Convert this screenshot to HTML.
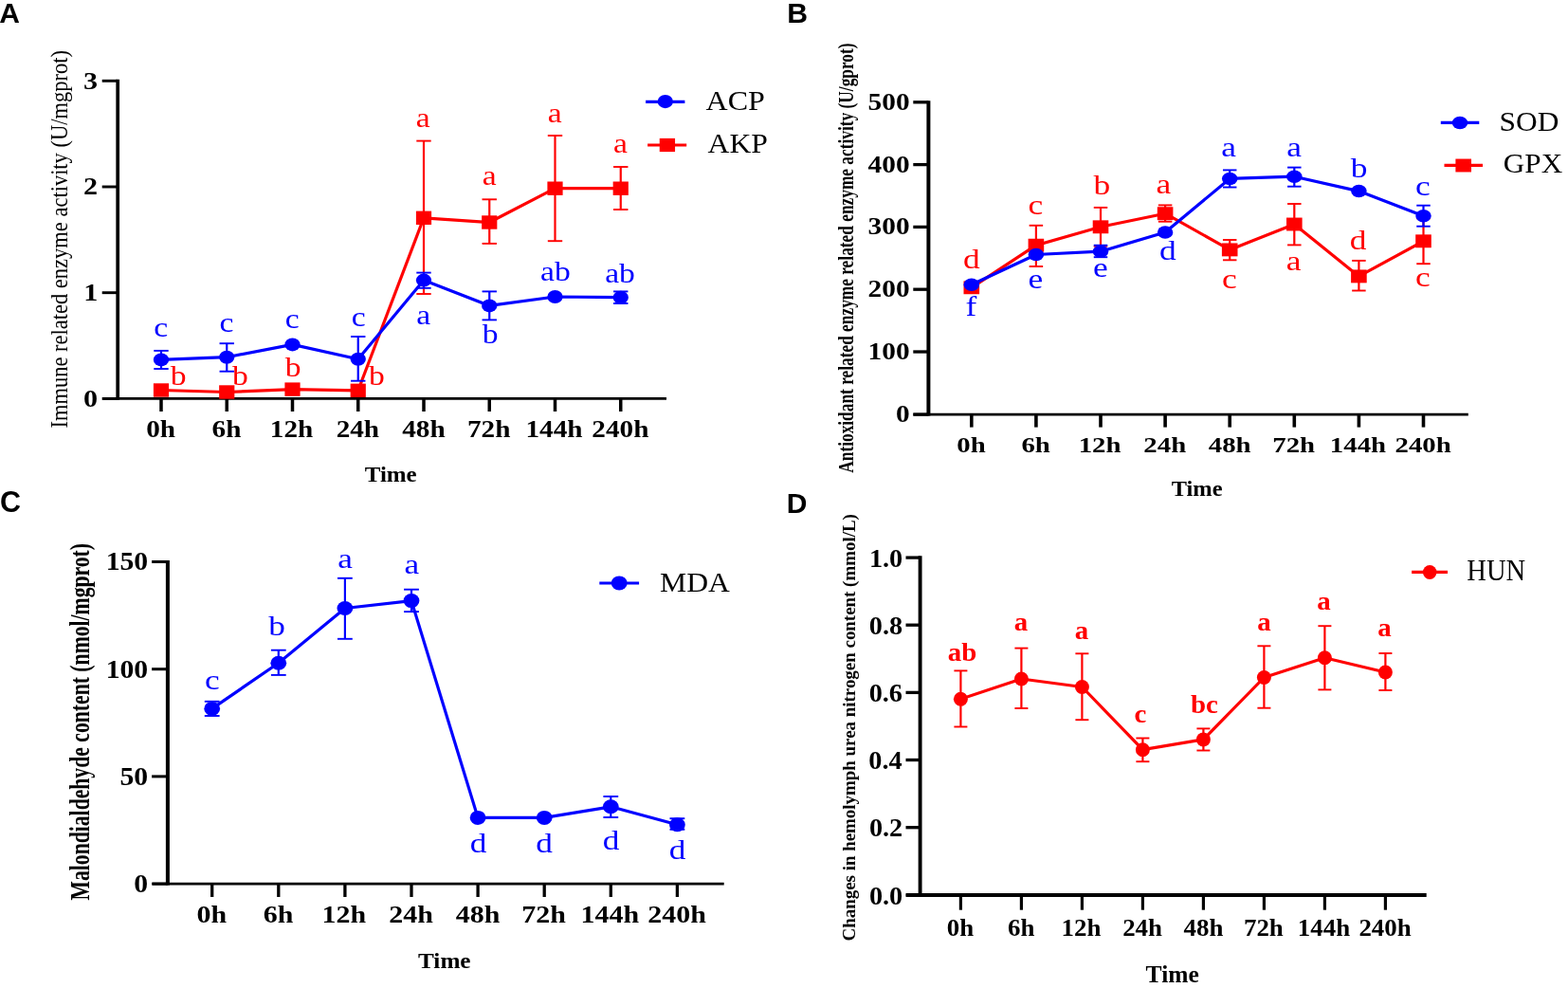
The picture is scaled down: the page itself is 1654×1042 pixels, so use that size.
<!DOCTYPE html>
<html><head><meta charset="utf-8"><title>Figure</title>
<style>html,body{margin:0;padding:0;background:#fff;}svg{display:block;}</style></head>
<body><svg width="1654" height="1042" viewBox="0 0 1654 1042">
<rect width="1654" height="1042" fill="#fff"/>
<line x1="124.2" y1="83.85" x2="124.2" y2="421.85" stroke="#000000" stroke-width="3.7" stroke-linecap="butt"/>
<line x1="108" y1="420.4" x2="703" y2="420.4" stroke="#000000" stroke-width="2.9" stroke-linecap="butt"/>
<line x1="107.7" y1="420.4" x2="124.2" y2="420.4" stroke="#000000" stroke-width="2.9" stroke-linecap="butt"/>
<line x1="107.7" y1="308.7" x2="124.2" y2="308.7" stroke="#000000" stroke-width="2.9" stroke-linecap="butt"/>
<line x1="107.7" y1="197" x2="124.2" y2="197" stroke="#000000" stroke-width="2.9" stroke-linecap="butt"/>
<line x1="107.7" y1="85.3" x2="124.2" y2="85.3" stroke="#000000" stroke-width="2.9" stroke-linecap="butt"/>
<line x1="170" y1="420.4" x2="170" y2="434" stroke="#000000" stroke-width="3.5" stroke-linecap="butt"/>
<line x1="239.25" y1="420.4" x2="239.25" y2="434" stroke="#000000" stroke-width="3.5" stroke-linecap="butt"/>
<line x1="308.5" y1="420.4" x2="308.5" y2="434" stroke="#000000" stroke-width="3.5" stroke-linecap="butt"/>
<line x1="377.75" y1="420.4" x2="377.75" y2="434" stroke="#000000" stroke-width="3.5" stroke-linecap="butt"/>
<line x1="447" y1="420.4" x2="447" y2="434" stroke="#000000" stroke-width="3.5" stroke-linecap="butt"/>
<line x1="516.25" y1="420.4" x2="516.25" y2="434" stroke="#000000" stroke-width="3.5" stroke-linecap="butt"/>
<line x1="585.5" y1="420.4" x2="585.5" y2="434" stroke="#000000" stroke-width="3.5" stroke-linecap="butt"/>
<line x1="654.75" y1="420.4" x2="654.75" y2="434" stroke="#000000" stroke-width="3.5" stroke-linecap="butt"/>
<text transform="translate(88.03,428.7) scale(1.1600,1)" font-family='"Liberation Serif", "Times New Roman", serif' font-weight="bold" font-size="26.000" fill="#000">0</text>
<text transform="translate(88.33,317) scale(1.1600,1)" font-family='"Liberation Serif", "Times New Roman", serif' font-weight="bold" font-size="26.000" fill="#000">1</text>
<text transform="translate(88.03,205.3) scale(1.1600,1)" font-family='"Liberation Serif", "Times New Roman", serif' font-weight="bold" font-size="26.000" fill="#000">2</text>
<text transform="translate(87.88,93.6) scale(1.1600,1)" font-family='"Liberation Serif", "Times New Roman", serif' font-weight="bold" font-size="26.000" fill="#000">3</text>
<text transform="translate(154.21,460.8) scale(1.1700,1)" font-family='"Liberation Serif", "Times New Roman", serif' font-weight="bold" font-size="25.000" fill="#000">0h</text>
<text transform="translate(223.53,460.8) scale(1.1700,1)" font-family='"Liberation Serif", "Times New Roman", serif' font-weight="bold" font-size="25.000" fill="#000">6h</text>
<text transform="translate(284.81,460.8) scale(1.1700,1)" font-family='"Liberation Serif", "Times New Roman", serif' font-weight="bold" font-size="25.000" fill="#000">12h</text>
<text transform="translate(354.64,460.8) scale(1.1700,1)" font-family='"Liberation Serif", "Times New Roman", serif' font-weight="bold" font-size="25.000" fill="#000">24h</text>
<text transform="translate(424.26,460.8) scale(1.1700,1)" font-family='"Liberation Serif", "Times New Roman", serif' font-weight="bold" font-size="25.000" fill="#000">48h</text>
<text transform="translate(492.92,460.8) scale(1.1700,1)" font-family='"Liberation Serif", "Times New Roman", serif' font-weight="bold" font-size="25.000" fill="#000">72h</text>
<text transform="translate(554.5,460.8) scale(1.1700,1)" font-family='"Liberation Serif", "Times New Roman", serif' font-weight="bold" font-size="25.000" fill="#000">144h</text>
<text transform="translate(624.33,460.8) scale(1.1700,1)" font-family='"Liberation Serif", "Times New Roman", serif' font-weight="bold" font-size="25.000" fill="#000">240h</text>
<text transform="translate(384.73,507.76) scale(1.0467,1)" font-family='"Liberation Serif", "Times New Roman", serif' font-weight="bold" font-size="23.830" fill="#000">Time</text>
<text transform="translate(71.2,451.49) scale(1.1212,1) rotate(-90)" font-family='"Liberation Serif", "Times New Roman", serif' font-weight="normal" font-size="22.500" fill="#000">Immune related enzyme activity (U/mgprot)</text>
<text transform="translate(-0.75,24.1) scale(1.0000,1)" font-family='"Liberation Sans", Arial, sans-serif' font-weight="bold" font-size="30.000" fill="#000">A</text>
<polyline points="170,411.5 239.25,413.5 308.5,410.6 377.75,411.8 447,229.8 516.25,234.5 585.5,198.7 654.75,198.7" fill="none" stroke="#ff0000" stroke-width="3.2" stroke-linejoin="round"/>
<line x1="447" y1="148.6" x2="447" y2="310" stroke="#ff0000" stroke-width="2.2" stroke-linecap="butt"/>
<line x1="439.3" y1="148.6" x2="454.7" y2="148.6" stroke="#ff0000" stroke-width="1.9" stroke-linecap="butt"/>
<line x1="439.3" y1="310" x2="454.7" y2="310" stroke="#ff0000" stroke-width="1.9" stroke-linecap="butt"/>
<line x1="516.25" y1="210.3" x2="516.25" y2="256.9" stroke="#ff0000" stroke-width="2.2" stroke-linecap="butt"/>
<line x1="508.55" y1="210.3" x2="523.95" y2="210.3" stroke="#ff0000" stroke-width="1.9" stroke-linecap="butt"/>
<line x1="508.55" y1="256.9" x2="523.95" y2="256.9" stroke="#ff0000" stroke-width="1.9" stroke-linecap="butt"/>
<line x1="585.5" y1="143" x2="585.5" y2="254.2" stroke="#ff0000" stroke-width="2.2" stroke-linecap="butt"/>
<line x1="577.8" y1="143" x2="593.2" y2="143" stroke="#ff0000" stroke-width="1.9" stroke-linecap="butt"/>
<line x1="577.8" y1="254.2" x2="593.2" y2="254.2" stroke="#ff0000" stroke-width="1.9" stroke-linecap="butt"/>
<line x1="654.75" y1="176" x2="654.75" y2="221" stroke="#ff0000" stroke-width="2.2" stroke-linecap="butt"/>
<line x1="647.05" y1="176" x2="662.45" y2="176" stroke="#ff0000" stroke-width="1.9" stroke-linecap="butt"/>
<line x1="647.05" y1="221" x2="662.45" y2="221" stroke="#ff0000" stroke-width="1.9" stroke-linecap="butt"/>
<rect x="161.9" y="404.3" width="16.2" height="14.4" fill="#ff0000"/>
<rect x="231.15" y="406.3" width="16.2" height="14.4" fill="#ff0000"/>
<rect x="300.4" y="403.4" width="16.2" height="14.4" fill="#ff0000"/>
<rect x="369.65" y="404.6" width="16.2" height="14.4" fill="#ff0000"/>
<rect x="438.9" y="222.6" width="16.2" height="14.4" fill="#ff0000"/>
<rect x="508.15" y="227.3" width="16.2" height="14.4" fill="#ff0000"/>
<rect x="577.4" y="191.5" width="16.2" height="14.4" fill="#ff0000"/>
<rect x="646.65" y="191.5" width="16.2" height="14.4" fill="#ff0000"/>
<polyline points="170,379.4 239.25,376.7 308.5,363.4 377.75,378.7 447,295.6 516.25,322.4 585.5,313 654.75,313.7" fill="none" stroke="#0000ff" stroke-width="3.2" stroke-linejoin="round"/>
<line x1="170" y1="369.9" x2="170" y2="389" stroke="#0000ff" stroke-width="2.2" stroke-linecap="butt"/>
<line x1="162.3" y1="369.9" x2="177.7" y2="369.9" stroke="#0000ff" stroke-width="1.9" stroke-linecap="butt"/>
<line x1="162.3" y1="389" x2="177.7" y2="389" stroke="#0000ff" stroke-width="1.9" stroke-linecap="butt"/>
<line x1="239.25" y1="362.2" x2="239.25" y2="391.7" stroke="#0000ff" stroke-width="2.2" stroke-linecap="butt"/>
<line x1="231.55" y1="362.2" x2="246.95" y2="362.2" stroke="#0000ff" stroke-width="1.9" stroke-linecap="butt"/>
<line x1="231.55" y1="391.7" x2="246.95" y2="391.7" stroke="#0000ff" stroke-width="1.9" stroke-linecap="butt"/>
<line x1="377.75" y1="355" x2="377.75" y2="401.7" stroke="#0000ff" stroke-width="2.2" stroke-linecap="butt"/>
<line x1="370.05" y1="355" x2="385.45" y2="355" stroke="#0000ff" stroke-width="1.9" stroke-linecap="butt"/>
<line x1="370.05" y1="401.7" x2="385.45" y2="401.7" stroke="#0000ff" stroke-width="1.9" stroke-linecap="butt"/>
<line x1="447" y1="287.6" x2="447" y2="303.8" stroke="#0000ff" stroke-width="2.2" stroke-linecap="butt"/>
<line x1="439.3" y1="287.6" x2="454.7" y2="287.6" stroke="#0000ff" stroke-width="1.9" stroke-linecap="butt"/>
<line x1="439.3" y1="303.8" x2="454.7" y2="303.8" stroke="#0000ff" stroke-width="1.9" stroke-linecap="butt"/>
<line x1="516.25" y1="307.4" x2="516.25" y2="337.4" stroke="#0000ff" stroke-width="2.2" stroke-linecap="butt"/>
<line x1="508.55" y1="307.4" x2="523.95" y2="307.4" stroke="#0000ff" stroke-width="1.9" stroke-linecap="butt"/>
<line x1="508.55" y1="337.4" x2="523.95" y2="337.4" stroke="#0000ff" stroke-width="1.9" stroke-linecap="butt"/>
<line x1="654.75" y1="307.4" x2="654.75" y2="320" stroke="#0000ff" stroke-width="2.2" stroke-linecap="butt"/>
<line x1="647.05" y1="307.4" x2="662.45" y2="307.4" stroke="#0000ff" stroke-width="1.9" stroke-linecap="butt"/>
<line x1="647.05" y1="320" x2="662.45" y2="320" stroke="#0000ff" stroke-width="1.9" stroke-linecap="butt"/>
<ellipse cx="170" cy="379.4" rx="8.15" ry="7" fill="#0000ff"/>
<ellipse cx="239.25" cy="376.7" rx="8.15" ry="7" fill="#0000ff"/>
<ellipse cx="308.5" cy="363.4" rx="8.15" ry="7" fill="#0000ff"/>
<ellipse cx="377.75" cy="378.7" rx="8.15" ry="7" fill="#0000ff"/>
<ellipse cx="447" cy="295.6" rx="8.15" ry="7" fill="#0000ff"/>
<ellipse cx="516.25" cy="322.4" rx="8.15" ry="7" fill="#0000ff"/>
<ellipse cx="585.5" cy="313" rx="8.15" ry="7" fill="#0000ff"/>
<ellipse cx="654.75" cy="313.7" rx="8.15" ry="7" fill="#0000ff"/>
<line x1="681.1" y1="107.3" x2="722.4" y2="107.3" stroke="#0000ff" stroke-width="3.2" stroke-linecap="butt"/>
<ellipse cx="701.8" cy="107.1" rx="8.15" ry="7.1" fill="#0000ff"/>
<text transform="translate(744.48,115.5) scale(1.0802,1)" font-family='"Liberation Serif", "Times New Roman", serif' font-weight="normal" font-size="29.701" fill="#000">ACP</text>
<line x1="683.1" y1="153" x2="724.2" y2="153" stroke="#ff0000" stroke-width="3.2" stroke-linecap="butt"/>
<rect x="695.75" y="145.9" width="16.3" height="14.2" fill="#ff0000"/>
<text transform="translate(746.58,161.4) scale(1.0782,1)" font-family='"Liberation Serif", "Times New Roman", serif' font-weight="normal" font-size="29.394" fill="#000">AKP</text>
<text transform="translate(162.35,354.8) scale(1.1800,1)" font-family='"Liberation Serif", "Times New Roman", serif' font-weight="normal" font-size="28.500" fill="#0000ff">c</text>
<text transform="translate(231.55,349.9) scale(1.1800,1)" font-family='"Liberation Serif", "Times New Roman", serif' font-weight="normal" font-size="28.500" fill="#0000ff">c</text>
<text transform="translate(300.85,345.8) scale(1.1800,1)" font-family='"Liberation Serif", "Times New Roman", serif' font-weight="normal" font-size="28.500" fill="#0000ff">c</text>
<text transform="translate(370.75,343.7) scale(1.1800,1)" font-family='"Liberation Serif", "Times New Roman", serif' font-weight="normal" font-size="28.500" fill="#0000ff">c</text>
<text transform="translate(439.28,341.6) scale(1.1800,1)" font-family='"Liberation Serif", "Times New Roman", serif' font-weight="normal" font-size="28.500" fill="#0000ff">a</text>
<text transform="translate(508.77,362) scale(1.1800,1)" font-family='"Liberation Serif", "Times New Roman", serif' font-weight="normal" font-size="28.500" fill="#0000ff">b</text>
<text transform="translate(570.09,295.6) scale(1.1800,1)" font-family='"Liberation Serif", "Times New Roman", serif' font-weight="normal" font-size="28.500" fill="#0000ff">ab</text>
<text transform="translate(638.19,297.6) scale(1.1800,1)" font-family='"Liberation Serif", "Times New Roman", serif' font-weight="normal" font-size="28.500" fill="#0000ff">ab</text>
<text transform="translate(179.77,405.5) scale(1.1800,1)" font-family='"Liberation Serif", "Times New Roman", serif' font-weight="normal" font-size="28.500" fill="#ff0000">b</text>
<text transform="translate(245.07,405.5) scale(1.1800,1)" font-family='"Liberation Serif", "Times New Roman", serif' font-weight="normal" font-size="28.500" fill="#ff0000">b</text>
<text transform="translate(300.67,396.6) scale(1.1800,1)" font-family='"Liberation Serif", "Times New Roman", serif' font-weight="normal" font-size="28.500" fill="#ff0000">b</text>
<text transform="translate(388.97,405.6) scale(1.1800,1)" font-family='"Liberation Serif", "Times New Roman", serif' font-weight="normal" font-size="28.500" fill="#ff0000">b</text>
<text transform="translate(438.68,134) scale(1.1800,1)" font-family='"Liberation Serif", "Times New Roman", serif' font-weight="normal" font-size="28.500" fill="#ff0000">a</text>
<text transform="translate(508.68,195.3) scale(1.1800,1)" font-family='"Liberation Serif", "Times New Roman", serif' font-weight="normal" font-size="28.500" fill="#ff0000">a</text>
<text transform="translate(577.78,128.8) scale(1.1800,1)" font-family='"Liberation Serif", "Times New Roman", serif' font-weight="normal" font-size="28.500" fill="#ff0000">a</text>
<text transform="translate(646.98,160.8) scale(1.1800,1)" font-family='"Liberation Serif", "Times New Roman", serif' font-weight="normal" font-size="28.500" fill="#ff0000">a</text>
<line x1="979.4" y1="106.35" x2="979.4" y2="438.55" stroke="#000000" stroke-width="4.0" stroke-linecap="butt"/>
<line x1="963.5" y1="437.1" x2="1548.8" y2="437.1" stroke="#000000" stroke-width="2.9" stroke-linecap="butt"/>
<line x1="963.3" y1="437.1" x2="979.4" y2="437.1" stroke="#000000" stroke-width="3.3" stroke-linecap="butt"/>
<line x1="963.3" y1="371" x2="979.4" y2="371" stroke="#000000" stroke-width="3.3" stroke-linecap="butt"/>
<line x1="963.3" y1="305.2" x2="979.4" y2="305.2" stroke="#000000" stroke-width="3.3" stroke-linecap="butt"/>
<line x1="963.3" y1="239.4" x2="979.4" y2="239.4" stroke="#000000" stroke-width="3.3" stroke-linecap="butt"/>
<line x1="963.3" y1="173.6" x2="979.4" y2="173.6" stroke="#000000" stroke-width="3.3" stroke-linecap="butt"/>
<line x1="963.3" y1="107.8" x2="979.4" y2="107.8" stroke="#000000" stroke-width="3.3" stroke-linecap="butt"/>
<line x1="1024.8" y1="437.1" x2="1024.8" y2="450.6" stroke="#000000" stroke-width="3.6" stroke-linecap="butt"/>
<line x1="1092.9" y1="437.1" x2="1092.9" y2="450.6" stroke="#000000" stroke-width="3.6" stroke-linecap="butt"/>
<line x1="1161" y1="437.1" x2="1161" y2="450.6" stroke="#000000" stroke-width="3.6" stroke-linecap="butt"/>
<line x1="1229.1" y1="437.1" x2="1229.1" y2="450.6" stroke="#000000" stroke-width="3.6" stroke-linecap="butt"/>
<line x1="1297.2" y1="437.1" x2="1297.2" y2="450.6" stroke="#000000" stroke-width="3.6" stroke-linecap="butt"/>
<line x1="1365.3" y1="437.1" x2="1365.3" y2="450.6" stroke="#000000" stroke-width="3.6" stroke-linecap="butt"/>
<line x1="1433.4" y1="437.1" x2="1433.4" y2="450.6" stroke="#000000" stroke-width="3.6" stroke-linecap="butt"/>
<line x1="1501.5" y1="437.1" x2="1501.5" y2="450.6" stroke="#000000" stroke-width="3.6" stroke-linecap="butt"/>
<text transform="translate(944.91,445.1) scale(1.1500,1)" font-family='"Liberation Serif", "Times New Roman", serif' font-weight="bold" font-size="25.500" fill="#000">0</text>
<text transform="translate(915.59,379) scale(1.1500,1)" font-family='"Liberation Serif", "Times New Roman", serif' font-weight="bold" font-size="25.500" fill="#000">100</text>
<text transform="translate(915.59,313.2) scale(1.1500,1)" font-family='"Liberation Serif", "Times New Roman", serif' font-weight="bold" font-size="25.500" fill="#000">200</text>
<text transform="translate(915.59,247.4) scale(1.1500,1)" font-family='"Liberation Serif", "Times New Roman", serif' font-weight="bold" font-size="25.500" fill="#000">300</text>
<text transform="translate(915.59,181.6) scale(1.1500,1)" font-family='"Liberation Serif", "Times New Roman", serif' font-weight="bold" font-size="25.500" fill="#000">400</text>
<text transform="translate(915.59,115.8) scale(1.1500,1)" font-family='"Liberation Serif", "Times New Roman", serif' font-weight="bold" font-size="25.500" fill="#000">500</text>
<text transform="translate(1009.25,476.5) scale(1.2000,1)" font-family='"Liberation Serif", "Times New Roman", serif' font-weight="bold" font-size="24.000" fill="#000">0h</text>
<text transform="translate(1077.42,476.5) scale(1.2000,1)" font-family='"Liberation Serif", "Times New Roman", serif' font-weight="bold" font-size="24.000" fill="#000">6h</text>
<text transform="translate(1137.67,476.5) scale(1.2000,1)" font-family='"Liberation Serif", "Times New Roman", serif' font-weight="bold" font-size="24.000" fill="#000">12h</text>
<text transform="translate(1206.35,476.5) scale(1.2000,1)" font-family='"Liberation Serif", "Times New Roman", serif' font-weight="bold" font-size="24.000" fill="#000">24h</text>
<text transform="translate(1274.81,476.5) scale(1.2000,1)" font-family='"Liberation Serif", "Times New Roman", serif' font-weight="bold" font-size="24.000" fill="#000">48h</text>
<text transform="translate(1342.33,476.5) scale(1.2000,1)" font-family='"Liberation Serif", "Times New Roman", serif' font-weight="bold" font-size="24.000" fill="#000">72h</text>
<text transform="translate(1402.87,476.5) scale(1.2000,1)" font-family='"Liberation Serif", "Times New Roman", serif' font-weight="bold" font-size="24.000" fill="#000">144h</text>
<text transform="translate(1471.55,476.5) scale(1.2000,1)" font-family='"Liberation Serif", "Times New Roman", serif' font-weight="bold" font-size="24.000" fill="#000">240h</text>
<text transform="translate(1235.73,522.67) scale(1.0699,1)" font-family='"Liberation Serif", "Times New Roman", serif' font-weight="bold" font-size="22.837" fill="#000">Time</text>
<text transform="translate(900.1,498.77) scale(1.2903,1) rotate(-90)" font-family='"Liberation Serif", "Times New Roman", serif' font-weight="bold" font-size="17.327" fill="#000">Antioxidant related enzyme related enzyme activity (U/gprot)</text>
<text transform="translate(830.15,24) scale(1.0000,1)" font-family='"Liberation Sans", Arial, sans-serif' font-weight="bold" font-size="30.200" fill="#000">B</text>
<polyline points="1024.8,303.3 1092.9,258.7 1161,239.3 1229.1,225.2 1297.2,263.4 1365.3,236.5 1433.4,291.4 1501.5,254.3" fill="none" stroke="#ff0000" stroke-width="3.2" stroke-linejoin="round"/>
<line x1="1092.9" y1="237.8" x2="1092.9" y2="281" stroke="#ff0000" stroke-width="2.2" stroke-linecap="butt"/>
<line x1="1085.65" y1="237.8" x2="1100.15" y2="237.8" stroke="#ff0000" stroke-width="1.9" stroke-linecap="butt"/>
<line x1="1085.65" y1="281" x2="1100.15" y2="281" stroke="#ff0000" stroke-width="1.9" stroke-linecap="butt"/>
<line x1="1161" y1="218.9" x2="1161" y2="259.7" stroke="#ff0000" stroke-width="2.2" stroke-linecap="butt"/>
<line x1="1153.75" y1="218.9" x2="1168.25" y2="218.9" stroke="#ff0000" stroke-width="1.9" stroke-linecap="butt"/>
<line x1="1153.75" y1="259.7" x2="1168.25" y2="259.7" stroke="#ff0000" stroke-width="1.9" stroke-linecap="butt"/>
<line x1="1229.1" y1="216.4" x2="1229.1" y2="233.7" stroke="#ff0000" stroke-width="2.2" stroke-linecap="butt"/>
<line x1="1221.85" y1="216.4" x2="1236.35" y2="216.4" stroke="#ff0000" stroke-width="1.9" stroke-linecap="butt"/>
<line x1="1221.85" y1="233.7" x2="1236.35" y2="233.7" stroke="#ff0000" stroke-width="1.9" stroke-linecap="butt"/>
<line x1="1297.2" y1="253" x2="1297.2" y2="274.3" stroke="#ff0000" stroke-width="2.2" stroke-linecap="butt"/>
<line x1="1289.95" y1="253" x2="1304.45" y2="253" stroke="#ff0000" stroke-width="1.9" stroke-linecap="butt"/>
<line x1="1289.95" y1="274.3" x2="1304.45" y2="274.3" stroke="#ff0000" stroke-width="1.9" stroke-linecap="butt"/>
<line x1="1365.3" y1="215" x2="1365.3" y2="258.4" stroke="#ff0000" stroke-width="2.2" stroke-linecap="butt"/>
<line x1="1358.05" y1="215" x2="1372.55" y2="215" stroke="#ff0000" stroke-width="1.9" stroke-linecap="butt"/>
<line x1="1358.05" y1="258.4" x2="1372.55" y2="258.4" stroke="#ff0000" stroke-width="1.9" stroke-linecap="butt"/>
<line x1="1433.4" y1="274.9" x2="1433.4" y2="306.5" stroke="#ff0000" stroke-width="2.2" stroke-linecap="butt"/>
<line x1="1426.15" y1="274.9" x2="1440.65" y2="274.9" stroke="#ff0000" stroke-width="1.9" stroke-linecap="butt"/>
<line x1="1426.15" y1="306.5" x2="1440.65" y2="306.5" stroke="#ff0000" stroke-width="1.9" stroke-linecap="butt"/>
<line x1="1501.5" y1="230.4" x2="1501.5" y2="278.2" stroke="#ff0000" stroke-width="2.2" stroke-linecap="butt"/>
<line x1="1494.25" y1="230.4" x2="1508.75" y2="230.4" stroke="#ff0000" stroke-width="1.9" stroke-linecap="butt"/>
<line x1="1494.25" y1="278.2" x2="1508.75" y2="278.2" stroke="#ff0000" stroke-width="1.9" stroke-linecap="butt"/>
<rect x="1016.5" y="296.35" width="16.6" height="13.9" fill="#ff0000"/>
<rect x="1084.6" y="251.75" width="16.6" height="13.9" fill="#ff0000"/>
<rect x="1152.7" y="232.35" width="16.6" height="13.9" fill="#ff0000"/>
<rect x="1220.8" y="218.25" width="16.6" height="13.9" fill="#ff0000"/>
<rect x="1288.9" y="256.45" width="16.6" height="13.9" fill="#ff0000"/>
<rect x="1357" y="229.55" width="16.6" height="13.9" fill="#ff0000"/>
<rect x="1425.1" y="284.45" width="16.6" height="13.9" fill="#ff0000"/>
<rect x="1493.2" y="247.35" width="16.6" height="13.9" fill="#ff0000"/>
<polyline points="1024.8,300.3 1092.9,268.5 1161,265.2 1229.1,245 1297.2,188.4 1365.3,186.2 1433.4,201.6 1501.5,227.7" fill="none" stroke="#0000ff" stroke-width="3.2" stroke-linejoin="round"/>
<line x1="1161" y1="258.7" x2="1161" y2="271.2" stroke="#0000ff" stroke-width="2.2" stroke-linecap="butt"/>
<line x1="1153.75" y1="258.7" x2="1168.25" y2="258.7" stroke="#0000ff" stroke-width="1.9" stroke-linecap="butt"/>
<line x1="1153.75" y1="271.2" x2="1168.25" y2="271.2" stroke="#0000ff" stroke-width="1.9" stroke-linecap="butt"/>
<line x1="1297.2" y1="179.4" x2="1297.2" y2="197.5" stroke="#0000ff" stroke-width="2.2" stroke-linecap="butt"/>
<line x1="1289.95" y1="179.4" x2="1304.45" y2="179.4" stroke="#0000ff" stroke-width="1.9" stroke-linecap="butt"/>
<line x1="1289.95" y1="197.5" x2="1304.45" y2="197.5" stroke="#0000ff" stroke-width="1.9" stroke-linecap="butt"/>
<line x1="1365.3" y1="176.6" x2="1365.3" y2="196.7" stroke="#0000ff" stroke-width="2.2" stroke-linecap="butt"/>
<line x1="1358.05" y1="176.6" x2="1372.55" y2="176.6" stroke="#0000ff" stroke-width="1.9" stroke-linecap="butt"/>
<line x1="1358.05" y1="196.7" x2="1372.55" y2="196.7" stroke="#0000ff" stroke-width="1.9" stroke-linecap="butt"/>
<line x1="1501.5" y1="216.7" x2="1501.5" y2="238.7" stroke="#0000ff" stroke-width="2.2" stroke-linecap="butt"/>
<line x1="1494.25" y1="216.7" x2="1508.75" y2="216.7" stroke="#0000ff" stroke-width="1.9" stroke-linecap="butt"/>
<line x1="1494.25" y1="238.7" x2="1508.75" y2="238.7" stroke="#0000ff" stroke-width="1.9" stroke-linecap="butt"/>
<ellipse cx="1024.8" cy="300.3" rx="8.25" ry="6.75" fill="#0000ff"/>
<ellipse cx="1092.9" cy="268.5" rx="8.25" ry="6.75" fill="#0000ff"/>
<ellipse cx="1161" cy="265.2" rx="8.25" ry="6.75" fill="#0000ff"/>
<ellipse cx="1229.1" cy="245" rx="8.25" ry="6.75" fill="#0000ff"/>
<ellipse cx="1297.2" cy="188.4" rx="8.25" ry="6.75" fill="#0000ff"/>
<ellipse cx="1365.3" cy="186.2" rx="8.25" ry="6.75" fill="#0000ff"/>
<ellipse cx="1433.4" cy="201.6" rx="8.25" ry="6.75" fill="#0000ff"/>
<ellipse cx="1501.5" cy="227.7" rx="8.25" ry="6.75" fill="#0000ff"/>
<line x1="1519.8" y1="129.3" x2="1560.3" y2="129.3" stroke="#0000ff" stroke-width="3.2" stroke-linecap="butt"/>
<ellipse cx="1540" cy="129.4" rx="8.25" ry="6.75" fill="#0000ff"/>
<text transform="translate(1581.56,137.71) scale(1.0668,1)" font-family='"Liberation Serif", "Times New Roman", serif' font-weight="normal" font-size="29.403" fill="#000">SOD</text>
<line x1="1523.5" y1="174.4" x2="1564" y2="174.4" stroke="#ff0000" stroke-width="3.2" stroke-linecap="butt"/>
<rect x="1535.4" y="167.55" width="16.6" height="13.9" fill="#ff0000"/>
<text transform="translate(1585.75,182.41) scale(1.0778,1)" font-family='"Liberation Serif", "Times New Roman", serif' font-weight="normal" font-size="28.955" fill="#000">GPX</text>
<text transform="translate(1016.01,282.5) scale(1.2000,1)" font-family='"Liberation Serif", "Times New Roman", serif' font-weight="normal" font-size="29.500" fill="#ff0000">d</text>
<text transform="translate(1084.45,225.8) scale(1.2000,1)" font-family='"Liberation Serif", "Times New Roman", serif' font-weight="normal" font-size="29.500" fill="#ff0000">c</text>
<text transform="translate(1153.56,205.2) scale(1.2000,1)" font-family='"Liberation Serif", "Times New Roman", serif' font-weight="normal" font-size="29.500" fill="#ff0000">b</text>
<text transform="translate(1219.57,204.2) scale(1.2000,1)" font-family='"Liberation Serif", "Times New Roman", serif' font-weight="normal" font-size="29.500" fill="#ff0000">a</text>
<text transform="translate(1288.95,303.5) scale(1.2000,1)" font-family='"Liberation Serif", "Times New Roman", serif' font-weight="normal" font-size="29.500" fill="#ff0000">c</text>
<text transform="translate(1356.77,285.2) scale(1.2000,1)" font-family='"Liberation Serif", "Times New Roman", serif' font-weight="normal" font-size="29.500" fill="#ff0000">a</text>
<text transform="translate(1423.71,262.8) scale(1.2000,1)" font-family='"Liberation Serif", "Times New Roman", serif' font-weight="normal" font-size="29.500" fill="#ff0000">d</text>
<text transform="translate(1492.95,301.6) scale(1.2000,1)" font-family='"Liberation Serif", "Times New Roman", serif' font-weight="normal" font-size="29.500" fill="#ff0000">c</text>
<text transform="translate(1018.44,332.8) scale(1.2000,1)" font-family='"Liberation Serif", "Times New Roman", serif' font-weight="normal" font-size="29.500" fill="#0000ff">f</text>
<text transform="translate(1084.54,303.6) scale(1.2000,1)" font-family='"Liberation Serif", "Times New Roman", serif' font-weight="normal" font-size="29.500" fill="#0000ff">e</text>
<text transform="translate(1153.04,291.8) scale(1.2000,1)" font-family='"Liberation Serif", "Times New Roman", serif' font-weight="normal" font-size="29.500" fill="#0000ff">e</text>
<text transform="translate(1223.01,273.8) scale(1.2000,1)" font-family='"Liberation Serif", "Times New Roman", serif' font-weight="normal" font-size="29.500" fill="#0000ff">d</text>
<text transform="translate(1288.37,164.6) scale(1.2000,1)" font-family='"Liberation Serif", "Times New Roman", serif' font-weight="normal" font-size="29.500" fill="#0000ff">a</text>
<text transform="translate(1357.27,165.1) scale(1.2000,1)" font-family='"Liberation Serif", "Times New Roman", serif' font-weight="normal" font-size="29.500" fill="#0000ff">a</text>
<text transform="translate(1424.86,187.2) scale(1.2000,1)" font-family='"Liberation Serif", "Times New Roman", serif' font-weight="normal" font-size="29.500" fill="#0000ff">b</text>
<text transform="translate(1492.95,205.6) scale(1.2000,1)" font-family='"Liberation Serif", "Times New Roman", serif' font-weight="normal" font-size="29.500" fill="#0000ff">c</text>
<line x1="176.9" y1="591.05" x2="176.9" y2="933.55" stroke="#000000" stroke-width="4.0" stroke-linecap="butt"/>
<line x1="161" y1="932.1" x2="763.7" y2="932.1" stroke="#000000" stroke-width="2.9" stroke-linecap="butt"/>
<line x1="160.1" y1="932.1" x2="176.9" y2="932.1" stroke="#000000" stroke-width="3.0" stroke-linecap="butt"/>
<line x1="160.1" y1="818.9" x2="176.9" y2="818.9" stroke="#000000" stroke-width="3.0" stroke-linecap="butt"/>
<line x1="160.1" y1="705.7" x2="176.9" y2="705.7" stroke="#000000" stroke-width="3.0" stroke-linecap="butt"/>
<line x1="160.1" y1="592.5" x2="176.9" y2="592.5" stroke="#000000" stroke-width="3.0" stroke-linecap="butt"/>
<line x1="223.7" y1="932.1" x2="223.7" y2="946" stroke="#000000" stroke-width="3.3" stroke-linecap="butt"/>
<line x1="293.8" y1="932.1" x2="293.8" y2="946" stroke="#000000" stroke-width="3.3" stroke-linecap="butt"/>
<line x1="363.9" y1="932.1" x2="363.9" y2="946" stroke="#000000" stroke-width="3.3" stroke-linecap="butt"/>
<line x1="434" y1="932.1" x2="434" y2="946" stroke="#000000" stroke-width="3.3" stroke-linecap="butt"/>
<line x1="504.1" y1="932.1" x2="504.1" y2="946" stroke="#000000" stroke-width="3.3" stroke-linecap="butt"/>
<line x1="574.2" y1="932.1" x2="574.2" y2="946" stroke="#000000" stroke-width="3.3" stroke-linecap="butt"/>
<line x1="644.3" y1="932.1" x2="644.3" y2="946" stroke="#000000" stroke-width="3.3" stroke-linecap="butt"/>
<line x1="714.4" y1="932.1" x2="714.4" y2="946" stroke="#000000" stroke-width="3.3" stroke-linecap="butt"/>
<text transform="translate(141.34,941) scale(1.1000,1)" font-family='"Liberation Serif", "Times New Roman", serif' font-weight="bold" font-size="27.000" fill="#000">0</text>
<text transform="translate(126.49,827.8) scale(1.1000,1)" font-family='"Liberation Serif", "Times New Roman", serif' font-weight="bold" font-size="27.000" fill="#000">50</text>
<text transform="translate(111.64,714.6) scale(1.1000,1)" font-family='"Liberation Serif", "Times New Roman", serif' font-weight="bold" font-size="27.000" fill="#000">100</text>
<text transform="translate(111.64,601.4) scale(1.1000,1)" font-family='"Liberation Serif", "Times New Roman", serif' font-weight="bold" font-size="27.000" fill="#000">150</text>
<text transform="translate(207.52,973.2) scale(1.1800,1)" font-family='"Liberation Serif", "Times New Roman", serif' font-weight="bold" font-size="25.400" fill="#000">0h</text>
<text transform="translate(277.69,973.2) scale(1.1800,1)" font-family='"Liberation Serif", "Times New Roman", serif' font-weight="bold" font-size="25.400" fill="#000">6h</text>
<text transform="translate(339.62,973.2) scale(1.1800,1)" font-family='"Liberation Serif", "Times New Roman", serif' font-weight="bold" font-size="25.400" fill="#000">12h</text>
<text transform="translate(410.32,973.2) scale(1.1800,1)" font-family='"Liberation Serif", "Times New Roman", serif' font-weight="bold" font-size="25.400" fill="#000">24h</text>
<text transform="translate(480.8,973.2) scale(1.1800,1)" font-family='"Liberation Serif", "Times New Roman", serif' font-weight="bold" font-size="25.400" fill="#000">48h</text>
<text transform="translate(550.3,973.2) scale(1.1800,1)" font-family='"Liberation Serif", "Times New Roman", serif' font-weight="bold" font-size="25.400" fill="#000">72h</text>
<text transform="translate(612.53,973.2) scale(1.1800,1)" font-family='"Liberation Serif", "Times New Roman", serif' font-weight="bold" font-size="25.400" fill="#000">144h</text>
<text transform="translate(683.23,973.2) scale(1.1800,1)" font-family='"Liberation Serif", "Times New Roman", serif' font-weight="bold" font-size="25.400" fill="#000">240h</text>
<text transform="translate(441.02,1020.66) scale(1.0459,1)" font-family='"Liberation Serif", "Times New Roman", serif' font-weight="bold" font-size="24.113" fill="#000">Time</text>
<text transform="translate(93.8,949.53) scale(1.3447,1) rotate(-90)" font-family='"Liberation Serif", "Times New Roman", serif' font-weight="bold" font-size="21.681" fill="#000">Malondialdehyde content (nmol/mgprot)</text>
<text transform="translate(0,540.4) scale(1.0000,1)" font-family='"Liberation Sans", Arial, sans-serif' font-weight="bold" font-size="30.500" fill="#000">C</text>
<polyline points="223.7,747.4 293.8,699.2 363.9,641.5 434,633.6 504.1,862.4 574.2,862.4 644.3,850.8 714.4,869.8" fill="none" stroke="#0000ff" stroke-width="3.2" stroke-linejoin="round"/>
<line x1="223.7" y1="739.8" x2="223.7" y2="755" stroke="#0000ff" stroke-width="2.2" stroke-linecap="butt"/>
<line x1="215.8" y1="739.8" x2="231.6" y2="739.8" stroke="#0000ff" stroke-width="1.9" stroke-linecap="butt"/>
<line x1="215.8" y1="755" x2="231.6" y2="755" stroke="#0000ff" stroke-width="1.9" stroke-linecap="butt"/>
<line x1="293.8" y1="685.7" x2="293.8" y2="711.9" stroke="#0000ff" stroke-width="2.2" stroke-linecap="butt"/>
<line x1="285.9" y1="685.7" x2="301.7" y2="685.7" stroke="#0000ff" stroke-width="1.9" stroke-linecap="butt"/>
<line x1="285.9" y1="711.9" x2="301.7" y2="711.9" stroke="#0000ff" stroke-width="1.9" stroke-linecap="butt"/>
<line x1="363.9" y1="609.8" x2="363.9" y2="673.8" stroke="#0000ff" stroke-width="2.2" stroke-linecap="butt"/>
<line x1="356" y1="609.8" x2="371.8" y2="609.8" stroke="#0000ff" stroke-width="1.9" stroke-linecap="butt"/>
<line x1="356" y1="673.8" x2="371.8" y2="673.8" stroke="#0000ff" stroke-width="1.9" stroke-linecap="butt"/>
<line x1="434" y1="621.7" x2="434" y2="645.1" stroke="#0000ff" stroke-width="2.2" stroke-linecap="butt"/>
<line x1="426.1" y1="621.7" x2="441.9" y2="621.7" stroke="#0000ff" stroke-width="1.9" stroke-linecap="butt"/>
<line x1="426.1" y1="645.1" x2="441.9" y2="645.1" stroke="#0000ff" stroke-width="1.9" stroke-linecap="butt"/>
<line x1="644.3" y1="840" x2="644.3" y2="862" stroke="#0000ff" stroke-width="2.2" stroke-linecap="butt"/>
<line x1="636.4" y1="840" x2="652.2" y2="840" stroke="#0000ff" stroke-width="1.9" stroke-linecap="butt"/>
<line x1="636.4" y1="862" x2="652.2" y2="862" stroke="#0000ff" stroke-width="1.9" stroke-linecap="butt"/>
<line x1="714.4" y1="863.2" x2="714.4" y2="874.8" stroke="#0000ff" stroke-width="2.2" stroke-linecap="butt"/>
<line x1="706.5" y1="863.2" x2="722.3" y2="863.2" stroke="#0000ff" stroke-width="1.9" stroke-linecap="butt"/>
<line x1="706.5" y1="874.8" x2="722.3" y2="874.8" stroke="#0000ff" stroke-width="1.9" stroke-linecap="butt"/>
<ellipse cx="223.7" cy="747.4" rx="8.4" ry="7.5" fill="#0000ff"/>
<ellipse cx="293.8" cy="699.2" rx="8.4" ry="7.5" fill="#0000ff"/>
<ellipse cx="363.9" cy="641.5" rx="8.4" ry="7.5" fill="#0000ff"/>
<ellipse cx="434" cy="633.6" rx="8.4" ry="7.5" fill="#0000ff"/>
<ellipse cx="504.1" cy="862.4" rx="8.4" ry="7.5" fill="#0000ff"/>
<ellipse cx="574.2" cy="862.4" rx="8.4" ry="7.5" fill="#0000ff"/>
<ellipse cx="644.3" cy="850.8" rx="8.4" ry="7.5" fill="#0000ff"/>
<ellipse cx="714.4" cy="869.8" rx="8.4" ry="7.5" fill="#0000ff"/>
<line x1="632.3" y1="615" x2="674.1" y2="615" stroke="#0000ff" stroke-width="3.2" stroke-linecap="butt"/>
<ellipse cx="653.2" cy="614.9" rx="8.4" ry="7.5" fill="#0000ff"/>
<text transform="translate(696.05,623.8) scale(1.0545,1)" font-family='"Liberation Serif", "Times New Roman", serif' font-weight="normal" font-size="30.000" fill="#000">MDA</text>
<text transform="translate(215.97,727.4) scale(1.2000,1)" font-family='"Liberation Serif", "Times New Roman", serif' font-weight="normal" font-size="29.400" fill="#0000ff">c</text>
<text transform="translate(283.29,669.7) scale(1.2000,1)" font-family='"Liberation Serif", "Times New Roman", serif' font-weight="normal" font-size="29.400" fill="#0000ff">b</text>
<text transform="translate(356.2,599.4) scale(1.2000,1)" font-family='"Liberation Serif", "Times New Roman", serif' font-weight="normal" font-size="29.400" fill="#0000ff">a</text>
<text transform="translate(426.4,604.7) scale(1.2000,1)" font-family='"Liberation Serif", "Times New Roman", serif' font-weight="normal" font-size="29.400" fill="#0000ff">a</text>
<text transform="translate(495.64,899) scale(1.2000,1)" font-family='"Liberation Serif", "Times New Roman", serif' font-weight="normal" font-size="29.400" fill="#0000ff">d</text>
<text transform="translate(565.34,899) scale(1.2000,1)" font-family='"Liberation Serif", "Times New Roman", serif' font-weight="normal" font-size="29.400" fill="#0000ff">d</text>
<text transform="translate(635.74,896) scale(1.2000,1)" font-family='"Liberation Serif", "Times New Roman", serif' font-weight="normal" font-size="29.400" fill="#0000ff">d</text>
<text transform="translate(705.84,905.6) scale(1.2000,1)" font-family='"Liberation Serif", "Times New Roman", serif' font-weight="normal" font-size="29.400" fill="#0000ff">d</text>
<line x1="970.6" y1="586.2" x2="970.6" y2="945.9" stroke="#000000" stroke-width="3.9" stroke-linecap="butt"/>
<line x1="955.8" y1="944" x2="1504.7" y2="944" stroke="#000000" stroke-width="3.8" stroke-linecap="butt"/>
<line x1="955.5" y1="944" x2="970.6" y2="944" stroke="#000000" stroke-width="3.3" stroke-linecap="butt"/>
<line x1="955.5" y1="872.7" x2="970.6" y2="872.7" stroke="#000000" stroke-width="3.3" stroke-linecap="butt"/>
<line x1="955.5" y1="801.5" x2="970.6" y2="801.5" stroke="#000000" stroke-width="3.3" stroke-linecap="butt"/>
<line x1="955.5" y1="730.4" x2="970.6" y2="730.4" stroke="#000000" stroke-width="3.3" stroke-linecap="butt"/>
<line x1="955.5" y1="659.2" x2="970.6" y2="659.2" stroke="#000000" stroke-width="3.3" stroke-linecap="butt"/>
<line x1="955.5" y1="588.1" x2="970.6" y2="588.1" stroke="#000000" stroke-width="3.3" stroke-linecap="butt"/>
<line x1="1013.4" y1="944" x2="1013.4" y2="959.7" stroke="#000000" stroke-width="3.2" stroke-linecap="butt"/>
<line x1="1077.4" y1="944" x2="1077.4" y2="959.7" stroke="#000000" stroke-width="3.2" stroke-linecap="butt"/>
<line x1="1141.4" y1="944" x2="1141.4" y2="959.7" stroke="#000000" stroke-width="3.2" stroke-linecap="butt"/>
<line x1="1205.4" y1="944" x2="1205.4" y2="959.7" stroke="#000000" stroke-width="3.2" stroke-linecap="butt"/>
<line x1="1269.4" y1="944" x2="1269.4" y2="959.7" stroke="#000000" stroke-width="3.2" stroke-linecap="butt"/>
<line x1="1333.4" y1="944" x2="1333.4" y2="959.7" stroke="#000000" stroke-width="3.2" stroke-linecap="butt"/>
<line x1="1397.4" y1="944" x2="1397.4" y2="959.7" stroke="#000000" stroke-width="3.2" stroke-linecap="butt"/>
<line x1="1461.4" y1="944" x2="1461.4" y2="959.7" stroke="#000000" stroke-width="3.2" stroke-linecap="butt"/>
<text transform="translate(916.92,953.5) scale(1.0500,1)" font-family='"Liberation Serif", "Times New Roman", serif' font-weight="bold" font-size="26.900" fill="#000">0.0</text>
<text transform="translate(916.92,882.2) scale(1.0500,1)" font-family='"Liberation Serif", "Times New Roman", serif' font-weight="bold" font-size="26.900" fill="#000">0.2</text>
<text transform="translate(916.36,811) scale(1.0500,1)" font-family='"Liberation Serif", "Times New Roman", serif' font-weight="bold" font-size="26.900" fill="#000">0.4</text>
<text transform="translate(916.64,739.9) scale(1.0500,1)" font-family='"Liberation Serif", "Times New Roman", serif' font-weight="bold" font-size="26.900" fill="#000">0.6</text>
<text transform="translate(916.78,668.7) scale(1.0500,1)" font-family='"Liberation Serif", "Times New Roman", serif' font-weight="bold" font-size="26.900" fill="#000">0.8</text>
<text transform="translate(916.92,597.6) scale(1.0500,1)" font-family='"Liberation Serif", "Times New Roman", serif' font-weight="bold" font-size="26.900" fill="#000">1.0</text>
<text transform="translate(998.86,987) scale(1.0600,1)" font-family='"Liberation Serif", "Times New Roman", serif' font-weight="bold" font-size="25.400" fill="#000">0h</text>
<text transform="translate(1062.93,987) scale(1.0600,1)" font-family='"Liberation Serif", "Times New Roman", serif' font-weight="bold" font-size="25.400" fill="#000">6h</text>
<text transform="translate(1119.59,987) scale(1.0600,1)" font-family='"Liberation Serif", "Times New Roman", serif' font-weight="bold" font-size="25.400" fill="#000">12h</text>
<text transform="translate(1184.13,987) scale(1.0600,1)" font-family='"Liberation Serif", "Times New Roman", serif' font-weight="bold" font-size="25.400" fill="#000">24h</text>
<text transform="translate(1248.47,987) scale(1.0600,1)" font-family='"Liberation Serif", "Times New Roman", serif' font-weight="bold" font-size="25.400" fill="#000">48h</text>
<text transform="translate(1311.93,987) scale(1.0600,1)" font-family='"Liberation Serif", "Times New Roman", serif' font-weight="bold" font-size="25.400" fill="#000">72h</text>
<text transform="translate(1368.86,987) scale(1.0600,1)" font-family='"Liberation Serif", "Times New Roman", serif' font-weight="bold" font-size="25.400" fill="#000">144h</text>
<text transform="translate(1433.4,987) scale(1.0600,1)" font-family='"Liberation Serif", "Times New Roman", serif' font-weight="bold" font-size="25.400" fill="#000">240h</text>
<text transform="translate(1208.62,1035.86) scale(1.0451,1)" font-family='"Liberation Serif", "Times New Roman", serif' font-weight="bold" font-size="24.397" fill="#000">Time</text>
<text transform="translate(902.1,992.45) scale(1.0457,1) rotate(-90)" font-family='"Liberation Serif", "Times New Roman", serif' font-weight="bold" font-size="18.924" fill="#000">Changes in hemolymph urea nitrogen content (mmol/L)</text>
<text transform="translate(829.75,540.6) scale(1.0000,1)" font-family='"Liberation Sans", Arial, sans-serif' font-weight="bold" font-size="30.000" fill="#000">D</text>
<polyline points="1013.4,737.2 1077.4,716 1141.4,724.5 1205.4,790.7 1269.4,779.9 1333.4,714.5 1397.4,693.7 1461.4,709" fill="none" stroke="#ff0000" stroke-width="3.2" stroke-linejoin="round"/>
<line x1="1013.4" y1="707.4" x2="1013.4" y2="766.5" stroke="#ff0000" stroke-width="2.2" stroke-linecap="butt"/>
<line x1="1006.4" y1="707.4" x2="1020.4" y2="707.4" stroke="#ff0000" stroke-width="1.9" stroke-linecap="butt"/>
<line x1="1006.4" y1="766.5" x2="1020.4" y2="766.5" stroke="#ff0000" stroke-width="1.9" stroke-linecap="butt"/>
<line x1="1077.4" y1="683.6" x2="1077.4" y2="747" stroke="#ff0000" stroke-width="2.2" stroke-linecap="butt"/>
<line x1="1070.4" y1="683.6" x2="1084.4" y2="683.6" stroke="#ff0000" stroke-width="1.9" stroke-linecap="butt"/>
<line x1="1070.4" y1="747" x2="1084.4" y2="747" stroke="#ff0000" stroke-width="1.9" stroke-linecap="butt"/>
<line x1="1141.4" y1="689.3" x2="1141.4" y2="759.2" stroke="#ff0000" stroke-width="2.2" stroke-linecap="butt"/>
<line x1="1134.4" y1="689.3" x2="1148.4" y2="689.3" stroke="#ff0000" stroke-width="1.9" stroke-linecap="butt"/>
<line x1="1134.4" y1="759.2" x2="1148.4" y2="759.2" stroke="#ff0000" stroke-width="1.9" stroke-linecap="butt"/>
<line x1="1205.4" y1="778.5" x2="1205.4" y2="803.2" stroke="#ff0000" stroke-width="2.2" stroke-linecap="butt"/>
<line x1="1198.4" y1="778.5" x2="1212.4" y2="778.5" stroke="#ff0000" stroke-width="1.9" stroke-linecap="butt"/>
<line x1="1198.4" y1="803.2" x2="1212.4" y2="803.2" stroke="#ff0000" stroke-width="1.9" stroke-linecap="butt"/>
<line x1="1269.4" y1="768.4" x2="1269.4" y2="791.5" stroke="#ff0000" stroke-width="2.2" stroke-linecap="butt"/>
<line x1="1262.4" y1="768.4" x2="1276.4" y2="768.4" stroke="#ff0000" stroke-width="1.9" stroke-linecap="butt"/>
<line x1="1262.4" y1="791.5" x2="1276.4" y2="791.5" stroke="#ff0000" stroke-width="1.9" stroke-linecap="butt"/>
<line x1="1333.4" y1="681.3" x2="1333.4" y2="746.7" stroke="#ff0000" stroke-width="2.2" stroke-linecap="butt"/>
<line x1="1326.4" y1="681.3" x2="1340.4" y2="681.3" stroke="#ff0000" stroke-width="1.9" stroke-linecap="butt"/>
<line x1="1326.4" y1="746.7" x2="1340.4" y2="746.7" stroke="#ff0000" stroke-width="1.9" stroke-linecap="butt"/>
<line x1="1397.4" y1="660.2" x2="1397.4" y2="727.4" stroke="#ff0000" stroke-width="2.2" stroke-linecap="butt"/>
<line x1="1390.4" y1="660.2" x2="1404.4" y2="660.2" stroke="#ff0000" stroke-width="1.9" stroke-linecap="butt"/>
<line x1="1390.4" y1="727.4" x2="1404.4" y2="727.4" stroke="#ff0000" stroke-width="1.9" stroke-linecap="butt"/>
<line x1="1461.4" y1="689" x2="1461.4" y2="728" stroke="#ff0000" stroke-width="2.2" stroke-linecap="butt"/>
<line x1="1454.4" y1="689" x2="1468.4" y2="689" stroke="#ff0000" stroke-width="1.9" stroke-linecap="butt"/>
<line x1="1454.4" y1="728" x2="1468.4" y2="728" stroke="#ff0000" stroke-width="1.9" stroke-linecap="butt"/>
<ellipse cx="1013.4" cy="737.2" rx="7.5" ry="7.5" fill="#ff0000"/>
<ellipse cx="1077.4" cy="716" rx="7.5" ry="7.5" fill="#ff0000"/>
<ellipse cx="1141.4" cy="724.5" rx="7.5" ry="7.5" fill="#ff0000"/>
<ellipse cx="1205.4" cy="790.7" rx="7.5" ry="7.5" fill="#ff0000"/>
<ellipse cx="1269.4" cy="779.9" rx="7.5" ry="7.5" fill="#ff0000"/>
<ellipse cx="1333.4" cy="714.5" rx="7.5" ry="7.5" fill="#ff0000"/>
<ellipse cx="1397.4" cy="693.7" rx="7.5" ry="7.5" fill="#ff0000"/>
<ellipse cx="1461.4" cy="709" rx="7.5" ry="7.5" fill="#ff0000"/>
<line x1="1489.1" y1="603.4" x2="1527" y2="603.4" stroke="#ff0000" stroke-width="3.2" stroke-linecap="butt"/>
<ellipse cx="1508.2" cy="603.5" rx="7.3" ry="7.55" fill="#ff0000"/>
<text transform="translate(1547.34,612.49) scale(0.9219,1)" font-family='"Liberation Serif", "Times New Roman", serif' font-weight="normal" font-size="30.977" fill="#000">HUN</text>
<text transform="translate(999.81,697.3) scale(1.0500,1)" font-family='"Liberation Serif", "Times New Roman", serif' font-weight="bold" font-size="27.500" fill="#ff0000">ab</text>
<text transform="translate(1069.86,665.1) scale(1.0500,1)" font-family='"Liberation Serif", "Times New Roman", serif' font-weight="bold" font-size="27.500" fill="#ff0000">a</text>
<text transform="translate(1133.76,674.1) scale(1.0500,1)" font-family='"Liberation Serif", "Times New Roman", serif' font-weight="bold" font-size="27.500" fill="#ff0000">a</text>
<text transform="translate(1196.53,761.7) scale(1.0500,1)" font-family='"Liberation Serif", "Times New Roman", serif' font-weight="bold" font-size="27.500" fill="#ff0000">c</text>
<text transform="translate(1255.98,752.2) scale(1.0500,1)" font-family='"Liberation Serif", "Times New Roman", serif' font-weight="bold" font-size="27.500" fill="#ff0000">bc</text>
<text transform="translate(1326.26,664.7) scale(1.0500,1)" font-family='"Liberation Serif", "Times New Roman", serif' font-weight="bold" font-size="27.500" fill="#ff0000">a</text>
<text transform="translate(1389.36,643.3) scale(1.0500,1)" font-family='"Liberation Serif", "Times New Roman", serif' font-weight="bold" font-size="27.500" fill="#ff0000">a</text>
<text transform="translate(1453.36,670.7) scale(1.0500,1)" font-family='"Liberation Serif", "Times New Roman", serif' font-weight="bold" font-size="27.500" fill="#ff0000">a</text>
</svg></body></html>
